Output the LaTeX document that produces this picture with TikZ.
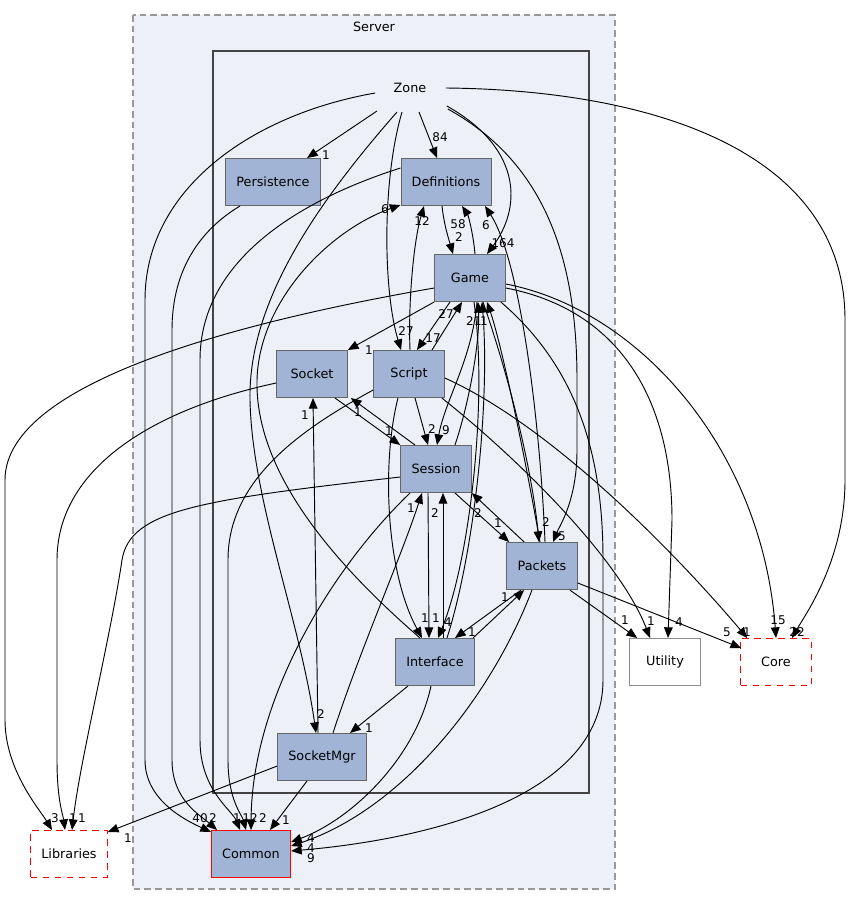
\documentclass[tikz,border=0pt]{standalone}
\usepackage{fontspec}
\setmainfont{DejaVu Sans}
\usetikzlibrary{arrows.meta, calc}
\definecolor{dirfill}{HTML}{A2B4D6}
\definecolor{dirdraw}{HTML}{666666}
\definecolor{clusterfill}{HTML}{EDF0F7}
\definecolor{clusterdraw}{HTML}{999999}
\definecolor{zonedraw}{HTML}{444444}
\definecolor{extred}{HTML}{FF0000}
\definecolor{extgray}{HTML}{8C8C8C}

\begin{document}
\begin{tikzpicture}[
  x=0.75pt, y=-0.75pt,
  dir/.style={
    rectangle,
    draw=dirdraw,
    fill=dirfill,
    line width=0.75pt,
    minimum width=53pt,
    minimum height=35.25pt,
    inner xsep=8pt,
    font=\fontsize{9.6}{11}\selectfont
  },
  ext/.style={
    rectangle,
    draw=#1,
    fill=white,
    line width=0.75pt,
    minimum width=53pt,
    minimum height=35.25pt,
    inner xsep=8pt,
    font=\fontsize{9.6}{11}\selectfont
  },
  dep/.style={-{Triangle[length=8pt,width=6.5pt]}, line width=0.7pt},
  lbl/.style={font=\fontsize{9}{9}\selectfont, inner sep=0pt}
]
  \useasboundingbox (0,0) rectangle (851,905);

  \draw[clusterdraw, fill=clusterfill, dashed, dash pattern=on 5pt off 3pt, line width=0.9pt] (133,15) rectangle (615,889);
  \node[font=\fontsize{9.6}{11}\selectfont] (server) at (374,27) {Server};
  \draw[zonedraw, line width=1.5pt] (213,51) rectangle (589,793);

  \node[dir, draw=none, fill=none] (zone) at (410,88) {Zone};
  \node[dir] (pers) at (273,182) {Persistence};
  \node[dir] (defs) at (446,182) {Definitions};
  \node[dir] (game) at (470,278) {Game};
  \node[dir] (sock) at (312,374) {Socket};
  \node[dir] (script) at (409,374) {Script};
  \node[dir] (sess) at (436,469) {Session};
  \node[dir] (pack) at (542,566) {Packets};
  \node[dir] (iface) at (435,662) {Interface};
  \node[dir] (smgr) at (322,757) {SocketMgr};
  \node[dir, draw=extred] (common) at (251,854) {Common};
  \node[ext=extred, dashed, dash pattern=on 5pt off 4pt] (libs) at (69,854) {Libraries};
  \node[ext=extgray] (util) at (665,662) {Utility};
  \node[ext=extred, dashed, dash pattern=on 5pt off 4pt] (core) at (776,662) {Core};

  % Zone
  \draw[dep] ($(zone.south)+(-33,-1)$) -- ($(pers.north)+(34,0)$) node[lbl] at (326,155) {1};
  \draw[dep] ($(zone.south)+(9,0)$) -- ($(defs.north)+(-9,0)$) node[lbl] at (440,137) {84};
  \draw[dep] ($(zone.south east)+(1,-6)$) .. controls (525,150) and (520,210) .. ($(game.north)+(17,0)$) node[lbl] at (503,243) {164};
  \draw[dep] ($(zone.south east)+(2,-3)$) .. controls (540,160) and (577,250) .. (577,380) -- (577,450) .. controls (577,500) and (560,525) .. ($(pack.north)+(11,0)$) node[lbl] at (562,536) {5};
  \draw[dep] (zone.east) .. controls (650,90) and (845,150) .. (845,320) -- (845,480) .. controls (845,560) and (805,615) .. ($(core.north)+(16,0)$) node[lbl] at (797,632) {22};
  \draw[dep] ($(zone.west)+(1,5)$) .. controls (250,115) and (145,190) .. (145,300) -- (145,760) .. controls (145,800) and (185,820) .. ($(common.north west)+(0,2)$) node[lbl] at (200,818) {40};
  \draw[dep] ($(zone.south)+(-8,0)$) .. controls (382,180) and (383,290) .. ($(script.north)+(-8,0)$) node[lbl] at (406,331) {27};
  \draw[dep] ($(zone.south)+(-13,0)$) .. controls (320,200) and (248,300) .. (250,400) .. controls (252,500) and (300,620) .. ($(smgr.north)+(-6,0)$) node[lbl] at (321,714) {2};

  % Persistence, Definitions
  \draw[dep] ($(pers.south)+(-33,0)$) .. controls (200,230) and (172,270) .. (172,330) -- (172,760) .. controls (172,800) and (200,815) .. ($(common.north west)+(6,0)$) node[lbl] at (213,818) {2};
  \draw[dep] ($(defs.west)+(0,-14)$) .. controls (300,200) and (200,260) .. (200,360) -- (200,740) .. controls (200,790) and (232,810) .. ($(common.north)+(-11,0)$) node[lbl] at (237,818) {1};
  \draw[dep] ($(defs.south)+(-4,0)$) .. controls (444,225) and (449,240) .. ($(game.north)+(-17,0)$) node[lbl] at (459,237) {2};

  % Game
  \draw[dep] ($(game.north)+(5,0)$) .. controls (473,232) and (468,215) .. ($(defs.south)+(16,0)$) node[lbl] at (458,224) {58};
  \draw[dep] ($(game.south)+(-20,0)$) -- ($(script.north)+(8,0)$) node[lbl] at (433,338) {17};
  \draw[dep] (game.south west) -- (sock.north east) node[lbl] at (369,350) {1};
  \draw[dep] ($(game.south)+(7,0)$) .. controls (472,360) and (445,400) .. ($(sess.north)+(1,0)$) node[lbl] at (446,430) {9};
  \draw[dep] ($(game.south)+(13,0)$) .. controls (510,380) and (532,470) .. ($(pack.north)+(-3,0)$) node[lbl] at (546,522) {2};
  \draw[dep] ($(game.south)+(4,0)$) .. controls (488,400) and (470,560) .. ($(iface.north)+(3,0)$) node[lbl] at (448,622) {4};
  \draw[dep] ($(game.south east)+(-5,0)$) .. controls (580,370) and (603,460) .. (603,560) -- (603,680) .. controls (603,800) and (420,840) .. ($(common.east)+(0,-3)$) node[lbl] at (311,858) {9};
  \draw[dep] ($(game.west)+(0,10)$) .. controls (250,320) and (5,380) .. (5,480) -- (5,720) .. controls (5,770) and (40,810) .. ($(libs.north)+(-17,0)$) node[lbl] at (55,818) {3};
  \draw[dep] ($(game.east)+(0,6)$) .. controls (640,310) and (762,450) .. (core.north) node[lbl] at (778,620) {15};
  \draw[dep] ($(game.east)+(0,10)$) .. controls (620,310) and (672,400) .. (672,520) -- ($(util.north)+(3,0)$) node[lbl] at (679,622) {4};

  % Script
  \draw[dep] ($(script.north)+(23,0)$) -- ($(game.south)+(-8,0)$) node[lbl] at (446,314) {27};
  \draw[dep] ($(script.north)+(1,0)$) .. controls (408,300) and (414,240) .. ($(defs.south)+(-22,0)$) node[lbl] at (422,221) {12};
  \draw[dep] ($(script.south)+(6,0)$) -- ($(sess.north)+(-8,0)$) node[lbl] at (432,429) {2};
  \draw[dep] ($(script.south)+(-11,0)$) .. controls (382,460) and (385,570) .. ($(iface.north)+(-13,0)$) node[lbl] at (425,618) {1};
  \draw[dep] ($(script.west)+(0,16)$) .. controls (300,430) and (228,480) .. (228,560) -- (228,760) .. controls (228,800) and (242,815) .. ($(common.north)+(-5,0)$) node[lbl] at (250,818) {12};
  \draw[dep] ($(script.south east)+(-3,0)$) .. controls (520,460) and (620,560) .. ($(util.north)+(-15,0)$) node[lbl] at (651,621) {1};
  \draw[dep] ($(script.east)+(0,4)$) .. controls (560,430) and (690,570) .. ($(core.north west)+(7,0)$) node[lbl] at (747,632) {1};

  % Socket, Session
  \draw[dep] ($(sock.south)+(23,0)$) -- (sess.north west) node[lbl] at (389,431) {1};
  \draw[dep] ($(sock.west)+(0,9)$) .. controls (150,410) and (57,470) .. (57,560) -- (57,760) .. controls (57,800) and (63,815) .. ($(libs.north)+(-4,0)$) node[lbl] at (73,818) {1};
  \draw[dep] ($(sess.north)+(-21,0)$) -- ($(sock.south east)+(3,0)$) node[lbl] at (358,412) {1};
  \draw[dep] ($(sess.north)+(19,0)$) .. controls (470,400) and (480,340) .. ($(game.south)+(8,0)$) node[lbl] at (470,321) {2};
  \draw[dep] ($(sess.south)+(-8,0)$) -- ($(iface.north)+(-6,0)$) node[lbl] at (436,618) {1};
  \draw[dep] ($(sess.south)+(19,0)$) -- ($(pack.north west)+(3,0)$) node[lbl] at (498,523) {1};
  \draw[dep] ($(sess.south)+(-26,0)$) .. controls (330,570) and (252,700) .. (common.north) node[lbl] at (263,818) {2};
  \draw[dep] ($(sess.west)+(0,8)$) .. controls (200,500) and (130,510) .. (122,560) .. controls (110,640) and (80,760) .. ($(libs.north)+(3,0)$) node[lbl] at (82,818) {1};

  % Packets
  \draw[dep] ($(pack.north)+(3,0)$) .. controls (540,420) and (520,260) .. ($(defs.south)+(39,0)$) node[lbl] at (486,225) {6};
  \draw[dep] ($(pack.north)+(-2,0)$) .. controls (520,430) and (500,340) .. ($(game.south)+(17,0)$) node[lbl] at (484,321) {1};
  \draw[dep] ($(pack.north west)+(18,0)$) -- (sess.south east) node[lbl] at (478,513) {2};
  \draw[dep] ($(pack.south west)+(15,0)$) -- ($(iface.north)+(20,0)$) node[lbl] at (472,632) {1};
  \draw[dep] ($(pack.south)+(-10,0)$) .. controls (490,700) and (400,810) .. ($(common.east)+(0,-8)$) node[lbl] at (311,848) {4};
  \draw[dep] ($(pack.south east)+(-8,0)$) -- ($(util.north west)+(8,0)$) node[lbl] at (625,620) {1};
  \draw[dep] ($(pack.east)+(0,17)$) -- ($(core.west)+(1,-14)$) node[lbl] at (727,632) {5};

  % Interface
  \draw[dep] ($(iface.north)+(-15,0)$) .. controls (330,560) and (255,470) .. (257,380) .. controls (259,300) and (330,230) .. ($(defs.south west)+(0,-1)$) node[lbl] at (385,209) {6};
  \draw[dep] ($(iface.north)+(8,0)$) -- ($(sess.south)+(7,0)$) node[lbl] at (435,513) {2};
  \draw[dep] ($(iface.north)+(12,0)$) .. controls (475,550) and (490,400) .. ($(game.south)+(12,0)$) node[lbl] at (478,321) {1};
  \draw[dep] ($(iface.north)+(38,0)$) -- ($(pack.south west)+(18,0)$) node[lbl] at (505,597) {1};
  \draw[dep] ($(iface.south)+(-27,0)$) -- ($(smgr.north)+(28,0)$) node[lbl] at (369,728) {1};
  \draw[dep] ($(iface.south)+(-4,0)$) .. controls (415,760) and (350,820) .. ($(common.east)+(0,-12)$) node[lbl] at (311,838) {4};

  % SocketMgr
  \draw[dep] ($(smgr.north)+(-4,0)$) -- ($(sock.south)+(1,0)$) node[lbl] at (305,415) {1};
  \draw[dep] ($(smgr.north)+(11,0)$) .. controls (360,650) and (400,560) .. ($(sess.south)+(-14,0)$) node[lbl] at (411,508) {1};
  \draw[dep] ($(smgr.south)+(-15,0)$) -- ($(common.north)+(19,0)$) node[lbl] at (286,820) {1};
  \draw[dep] ($(smgr.west)+(0,9)$) -- ($(libs.north east)+(0,2)$) node[lbl] at (128,838) {1};
\end{tikzpicture}
\end{document}
